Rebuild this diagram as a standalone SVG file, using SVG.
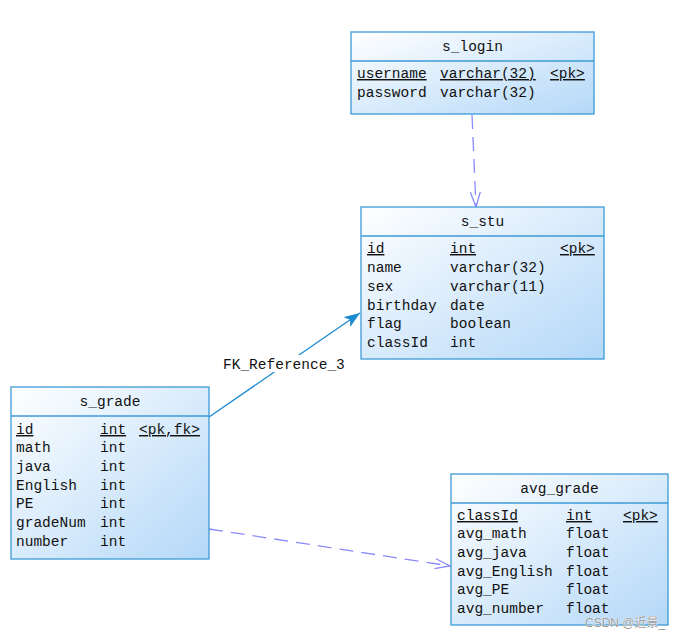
<svg xmlns="http://www.w3.org/2000/svg" width="682" height="639" viewBox="0 0 682 639">
<defs>
<linearGradient id="g" x1="0" y1="0" x2="1" y2="1">
<stop offset="0" stop-color="#ffffff"/>
<stop offset="1" stop-color="#b4d8f8"/>
</linearGradient>
<marker id="fill" viewBox="0 0 16 12" refX="16" refY="6" markerWidth="16" markerHeight="12" markerUnits="userSpaceOnUse" orient="auto">
<path d="M0,0 L16,6 L0,12 L4,6 Z" fill="#1b8ad0"/>
</marker>
<marker id="open" viewBox="0 0 16 12" refX="15" refY="6" markerWidth="16" markerHeight="12" markerUnits="userSpaceOnUse" orient="auto">
<path d="M0,1 L15,6 L0,11" fill="none" stroke="#8a8aff" stroke-width="1.3"/>
</marker>
</defs>
<style>
.box{fill:url(#g);stroke:#3d9ad6;stroke-width:1.3}
.div{stroke:#3d9ad6;stroke-width:1.3}
text{font-family:"Liberation Mono","DejaVu Sans Mono",monospace;font-size:14.5px;fill:#111}
.t{text-anchor:middle}
.u{text-decoration:underline}
.dash{fill:none;stroke:#8a8aff;stroke-width:1.3;stroke-dasharray:14,8}
.fk{fill:none;stroke:#1b8ad0;stroke-width:1.3}
.wm{font-family:"Liberation Sans","Noto Sans CJK SC",sans-serif;font-size:12px;fill:#9a9a9a;stroke:#fff;stroke-width:0.6;paint-order:stroke}
</style>
<g id="connectors">
<path class="dash" d="M472,115 L476,207" marker-end="url(#open)"/>
<path class="fk" d="M209,417 L360,313" marker-end="url(#fill)"/>
<rect x="222" y="355" width="126" height="17" fill="#fff"/>
<text x="223" y="369">FK_Reference_3</text>
<path class="dash" d="M209,529 L450,566" marker-end="url(#open)"/>
</g>
<g id="s_login">
<rect class="box" x="351" y="32" width="243" height="82"/>
<line class="div" x1="351" y1="61" x2="594" y2="61"/>
<text class="t" x="472.5" y="51">s_login</text>
<text class="u" x="357" y="78">username</text><text class="u" x="440" y="78">varchar(32)</text><text class="u" x="550" y="78">&lt;pk&gt;</text>
<text x="357" y="97">password</text><text x="440" y="97">varchar(32)</text>
</g>
<g id="s_stu">
<rect class="box" x="361" y="207" width="243" height="152"/>
<line class="div" x1="361" y1="236" x2="604" y2="236"/>
<text class="t" x="482.5" y="226">s_stu</text>
<text class="u" x="367" y="253">id</text><text class="u" x="450" y="253">int</text><text class="u" x="560" y="253">&lt;pk&gt;</text>
<text x="367" y="272">name</text><text x="450" y="272">varchar(32)</text>
<text x="367" y="291">sex</text><text x="450" y="291">varchar(11)</text>
<text x="367" y="310">birthday</text><text x="450" y="310">date</text>
<text x="367" y="328">flag</text><text x="450" y="328">boolean</text>
<text x="367" y="347">classId</text><text x="450" y="347">int</text>
</g>
<g id="s_grade">
<rect class="box" x="11" y="387" width="198" height="172"/>
<line class="div" x1="11" y1="416" x2="209" y2="416"/>
<text class="t" x="110" y="406">s_grade</text>
<text class="u" x="16" y="434">id</text><text class="u" x="100" y="434">int</text><text class="u" x="139" y="434">&lt;pk,fk&gt;</text>
<text x="16" y="452">math</text><text x="100" y="452">int</text>
<text x="16" y="471">java</text><text x="100" y="471">int</text>
<text x="16" y="490">English</text><text x="100" y="490">int</text>
<text x="16" y="508">PE</text><text x="100" y="508">int</text>
<text x="16" y="527">gradeNum</text><text x="100" y="527">int</text>
<text x="16" y="546">number</text><text x="100" y="546">int</text>
</g>
<g id="avg_grade">
<rect class="box" x="451" y="474" width="217" height="151"/>
<line class="div" x1="451" y1="503" x2="668" y2="503"/>
<text class="t" x="559.5" y="493">avg_grade</text>
<text class="u" x="457" y="520">classId</text><text class="u" x="566" y="520">int</text><text class="u" x="623" y="520">&lt;pk&gt;</text>
<text x="457" y="538">avg_math</text><text x="566" y="538">float</text>
<text x="457" y="557">avg_java</text><text x="566" y="557">float</text>
<text x="457" y="576">avg_English</text><text x="566" y="576">float</text>
<text x="457" y="594">avg_PE</text><text x="566" y="594">float</text>
<text x="457" y="613">avg_number</text><text x="566" y="613">float</text>
</g>
<text class="wm" x="585" y="627">CSDN @近景_</text>
</svg>
